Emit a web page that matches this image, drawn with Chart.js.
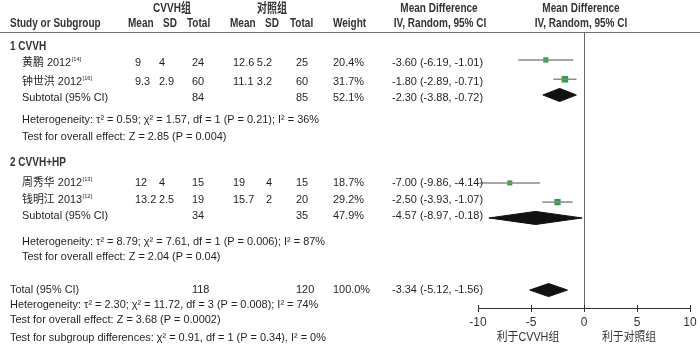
<!DOCTYPE html>
<html>
<head>
<meta charset="utf-8">
<script src="https://cdn.jsdelivr.net/npm/chart.js@4/dist/chart.umd.min.js"></script>
<style>
html,body{margin:0;padding:0;background:#fff;}
#wrap{width:700px;height:355px;position:relative;}
</style>
</head>
<body>
<div id="wrap"><canvas id="c" width="700" height="355"></canvas></div>
<script>
// ---- data ----
const studies = ['黄鹏 2012', '钟世洪 2012', '周秀华 2012', '钱明江 2013'];
const studyRefs = ['[14]', '[16]', '[13]', '[12]'];
const expMean = [9, 9.3, 12, 13.2];
const expSD = [4, 2.9, 4, 2.5];
const expN = [24, 60, 15, 19];
const ctlMean = [12.6, 11.1, 19, 15.7];
const ctlSD = [5.2, 3.2, 4, 2];
const ctlN = [25, 60, 15, 20];
const weights = [20.4, 31.7, 18.7, 29.2];
const md = [-3.60, -1.80, -7.00, -2.50];
const ciLo = [-6.19, -2.89, -9.86, -3.93];
const ciHi = [-1.01, -0.71, -4.14, -1.07];

const subgroups = ['1 CVVH', '2 CVVH+HP'];
const subExpN = [84, 34];
const subCtlN = [85, 35];
const subWeight = [52.1, 47.9];
const subMD = [-2.30, -4.57];
const subLo = [-3.88, -8.97];
const subHi = [-0.72, -0.18];
const subHet = ['Heterogeneity: τ² = 0.59; χ² = 1.57, df = 1 (P = 0.21); I² = 36%',
                'Heterogeneity: τ² = 8.79; χ² = 7.61, df = 1 (P = 0.006); I² = 87%'];
const subEffect = ['Test for overall effect: Z = 2.85 (P = 0.004)',
                   'Test for overall effect: Z = 2.04 (P = 0.04)'];

const totalExpN = 118, totalCtlN = 120, totalWeight = 100.0;
const totalMD = -3.34, totalLo = -5.12, totalHi = -1.56;
const totalHet = 'Heterogeneity: τ² = 2.30; χ² = 11.72, df = 3 (P = 0.008); I² = 74%';
const totalEffect = 'Test for overall effect: Z = 3.68 (P = 0.0002)';
const subDiff = 'Test for subgroup differences: χ² = 0.91, df = 1 (P = 0.34), I² = 0%';

const xTicks = [-10, -5, 0, 5, 10];
const favourLabels = ['利于CVVH组', '利于对照组'];

// ---- layout (row slots on the hidden y scale, 0 = top of plot area) ----
const studySlot = [1.62, 2.74, 8.75, 9.86];
const subSlot = [3.65, 10.78];
const totalSlot = 14.96;
const DIAMOND_H = 0.38;

// text rows (pixels)
const studyTextY = [63, 82, 183, 200];
const groupTextY = [46, 162];
const subTextY = [98, 216];
const hetTextY = [120, 242];
const effTextY = [137, 257];

const fmt2 = v => v.toFixed(2);
const ciText = (m, l, h) => `${fmt2(m)} (${fmt2(l)}, ${fmt2(h)})`;

const datasets = [];
// CI lines
studies.forEach((s, i) => {
  datasets.push({
    data: [{x: ciLo[i], y: studySlot[i]}, {x: ciHi[i], y: studySlot[i]}],
    showLine: true, borderColor: '#8a8a8a', borderWidth: 1.5, pointRadius: 0, fill: false
  });
});
// squares
studies.forEach((s, i) => {
  datasets.push({
    data: [{x: md[i], y: studySlot[i]}],
    pointStyle: 'rect', pointRadius: Math.sqrt(weights[i]) * 0.82,
    backgroundColor: '#2ea043', borderColor: '#2ea043', borderWidth: 0
  });
});
// diamonds
function diamond(m, l, h, y) {
  return {
    data: [{x: l, y: y}, {x: m, y: y - DIAMOND_H}, {x: h, y: y}, {x: m, y: y + DIAMOND_H}, {x: l, y: y}],
    showLine: true, fill: 'shape', borderColor: '#111', backgroundColor: '#111',
    borderWidth: 1, pointRadius: 0, tension: 0
  };
}
subgroups.forEach((g, k) => datasets.push(diamond(subMD[k], subLo[k], subHi[k], subSlot[k])));
datasets.push(diamond(totalMD, totalLo, totalHi, totalSlot));

const BODY = '11.5px "Liberation Sans", "Noto Sans CJK SC", sans-serif';
const HEAD = 'bold 13px "Liberation Sans", "Noto Sans CJK SC", sans-serif';
const TXT = '#231f20';
const BODY_SX = 0.95, HEAD_SX = 0.77;

const textPlugin = {
  id: 'forestText',
  afterDraw(chart) {
    const ctx = chart.ctx;
    const xs = chart.scales.x;
    ctx.save();
    ctx.textBaseline = 'middle';
    const put = (t, x, y, align, font, color, sx) => {
      ctx.save();
      ctx.font = font || BODY; ctx.textAlign = align || 'left';
      ctx.fillStyle = color || TXT;
      ctx.translate(x, y); ctx.scale(sx || BODY_SX, 1);
      ctx.fillText(t, 0, 0);
      ctx.restore();
    };
    const head = (t, x, y, align) => put(t, x, y, align, HEAD, '#333', HEAD_SX);
    // header
    head('CVVH组', 172, 8, 'center');
    head('对照组', 272, 8, 'center');
    head('Mean Difference', 439, 8, 'center');
    head('Mean Difference', 581, 8, 'center');
    head('Study or Subgroup', 10, 23, 'left');
    head('Mean', 128, 23, 'left');
    head('SD', 163, 23, 'left');
    head('Total', 187, 23, 'left');
    head('Mean', 230, 23, 'left');
    head('SD', 265, 23, 'left');
    head('Total', 290, 23, 'left');
    head('Weight', 333, 23, 'left');
    head('IV, Random, 95% CI', 440, 23, 'center');
    head('IV, Random, 95% CI', 581, 23, 'center');
    // header rule
    ctx.strokeStyle = '#6f6f6f'; ctx.lineWidth = 1;
    ctx.beginPath(); ctx.moveTo(0, 32.5); ctx.lineTo(700, 32.5); ctx.stroke();

    subgroups.forEach((g, k) => head(g, 10, groupTextY[k], 'left'));
    studies.forEach((s, i) => {
      const y = studyTextY[i];
      put(s, 22, y);
      ctx.font = BODY;
      const w = ctx.measureText(s).width * BODY_SX;
      put(studyRefs[i], 22 + w + 0.5, y - 4, 'left', '6px "Liberation Sans", sans-serif');
      put(String(expMean[i]), 135, y);
      put(String(expSD[i]), 159, y);
      put(String(expN[i]), 192, y);
      put(String(ctlMean[i]), 233, y);
      put(String(ctlSD[i]), 272, y, 'right');
      put(String(ctlN[i]), 296, y);
      put(weights[i].toFixed(1) + '%', 333, y);
      put(ciText(md[i], ciLo[i], ciHi[i]), 392, y);
    });
    subgroups.forEach((g, k) => {
      const y = subTextY[k];
      put('Subtotal (95% CI)', 22, y);
      put(String(subExpN[k]), 192, y);
      put(String(subCtlN[k]), 296, y);
      put(subWeight[k].toFixed(1) + '%', 333, y);
      put(ciText(subMD[k], subLo[k], subHi[k]), 392, y);
      put(subHet[k], 22, hetTextY[k]);
      put(subEffect[k], 22, effTextY[k]);
    });
    put('Total (95% CI)', 10, 290);
    put(String(totalExpN), 192, 290);
    put(String(totalCtlN), 296, 290);
    put(totalWeight.toFixed(1) + '%', 333, 290);
    put(ciText(totalMD, totalLo, totalHi), 392, 290);
    put(totalHet, 10, 305);
    put(totalEffect, 10, 320);
    put(subDiff, 10, 338);

    // upper halves of tick marks
    const yb = chart.chartArea.bottom;
    ctx.strokeStyle = '#333'; ctx.lineWidth = 1;
    xTicks.forEach(t => {
      const px = Math.round(xs.getPixelForValue(t)) + 0.5;
      ctx.beginPath(); ctx.moveTo(px, yb - 3); ctx.lineTo(px, yb); ctx.stroke();
    });
    // favour labels
    const zero = xs.getPixelForValue(0);
    const FAV = '12px "Liberation Sans", "Noto Sans CJK SC", sans-serif';
    put(favourLabels[0], zero - 56, 338, 'center', FAV, '#333', 0.9);
    put(favourLabels[1], zero + 45, 338, 'center', FAV, '#333', 0.9);
    ctx.restore();
  }
};

new Chart(document.getElementById('c'), {
  type: 'scatter',
  data: {datasets},
  options: {
    responsive: false, animation: false,
    layout: {padding: {left: 478, right: 10, top: 32, bottom: 0}},
    plugins: {legend: {display: false}, tooltip: {enabled: false}},
    scales: {
      x: {
        type: 'linear', min: -10, max: 10,
        afterBuildTicks: s => { s.ticks = xTicks.map(v => ({value: v})); },
        afterFit: s => { s.height = 47; },
        grid: {
          drawOnChartArea: true, tickLength: 4,
          color: c => (c.tick && c.tick.value === 0) ? '#6b6561' : 'rgba(0,0,0,0)',
          tickColor: '#333', lineWidth: 1
        },
        border: {display: true, color: '#333', width: 1},
        ticks: {color: '#333', padding: 3, font: {family: '"Liberation Sans", sans-serif', size: 12},
                callback: v => String(v)}
      },
      y: {type: 'linear', min: 0, max: 16, reverse: true, display: false}
    }
  },
  plugins: [textPlugin]
});
</script>
</body>
</html>
